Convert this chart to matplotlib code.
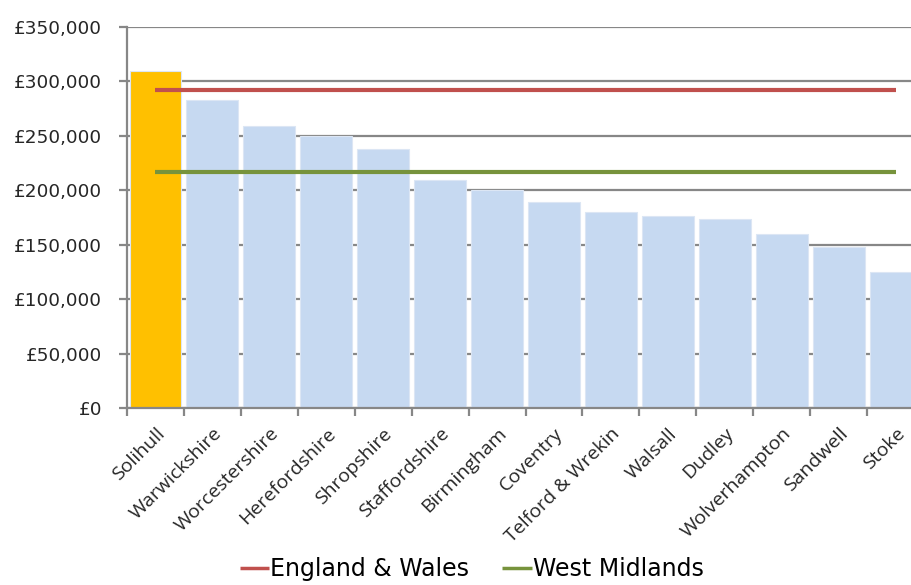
import matplotlib
matplotlib.use("Agg")
import matplotlib.pyplot as plt
from matplotlib.ticker import FuncFormatter, MultipleLocator

# Average house prices by local authority area
areas = ["Solihull", "Warwickshire", "Worcestershire", "Herefordshire", "Shropshire",
         "Staffordshire", "Birmingham", "Coventry", "Telford & Wrekin", "Walsall",
         "Dudley", "Wolverhampton", "Sandwell", "Stoke"]
prices = [310000, 283000, 259000, 250000, 238000, 209000, 200000, 189000,
          180000, 176000, 174000, 160000, 148000, 125000]
england_wales = 292000
west_midlands = 216500

highlight = "Solihull"
bar_colors = ["#FFC000" if a == highlight else "#C6D9F1" for a in areas]

fig = plt.figure(figsize=(9.11, 5.85), dpi=100)
ax = fig.add_axes([0.1394, 0.3026, 0.8749, 0.6513])

x = list(range(len(areas)))
ax.bar(x, prices, width=0.91, color=bar_colors, edgecolor="#DCE6F4",
       linewidth=0.8, zorder=2)

ew_line, = ax.plot(x, [england_wales] * len(areas), color="#C0504D", lw=3,
                   solid_capstyle="butt", zorder=3)
wm_line, = ax.plot(x, [west_midlands] * len(areas), color="#77933C", lw=3,
                   solid_capstyle="butt", zorder=3)

ax.set_xlim(-0.5, len(areas) - 0.5)
ax.set_ylim(0, 350000)
ax.yaxis.set_major_locator(MultipleLocator(50000))
ax.yaxis.set_major_formatter(FuncFormatter(lambda v, p: f"£{int(v):,}"))
ax.grid(axis="y", color="#878787", lw=1.6, zorder=0)
ax.set_axisbelow(True)

for side in ("top", "right"):
    ax.spines[side].set_visible(False)
for side in ("left", "bottom"):
    ax.spines[side].set_color("#878787")
    ax.spines[side].set_linewidth(1.6)

ax.set_xticks([i - 0.5 for i in range(len(areas) + 1)], minor=False)
ax.set_xticklabels([])
ax.set_xticks(x, minor=True)
ax.set_xticklabels(areas, minor=True, rotation=45, ha="right",
                   rotation_mode="anchor", fontsize=14, family=["Open Sans", "DejaVu Sans"],
                   color="#262626")
ax.tick_params(axis="x", which="major", length=6, width=1.6, color="#878787", direction="out")
ax.tick_params(axis="x", which="minor", length=0, pad=12)
ax.tick_params(axis="y", length=6, width=1.6, color="#878787", direction="out",
               labelsize=13.3, labelcolor="#262626", pad=12)
for lbl in ax.get_yticklabels():
    lbl.set_family(["DejaVu Sans"])

fig.legend([ew_line, wm_line], ["England & Wales", "West Midlands"],
           loc="lower center", bbox_to_anchor=(0.518, -0.03), ncol=2, frameon=False,
           handlelength=1.25, handletextpad=0.05, columnspacing=1.4,
           prop={"family": ["DejaVu Sans"], "size": 17})
for h in fig.legends[0].get_lines():
    h.set_linewidth(2.5)

fig.savefig("out.png", dpi=100)
